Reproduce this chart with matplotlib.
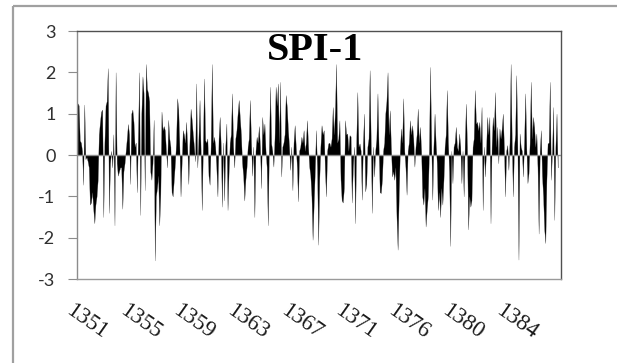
import matplotlib
matplotlib.use("Agg")
import matplotlib.pyplot as plt
from matplotlib.lines import Line2D
from matplotlib.transforms import blended_transform_factory
import numpy as np

title = "SPI-1"
year_labels = ["1351", "1355", "1359", "1363", "1367", "1371", "1376", "1380", "1384"]
label_step = 48
y_ticks = [-3, -2, -1, 0, 1, 2, 3]

spi_1351_1360 = [
    1.25, 1.2, 0.35, 0.3, 0.1, -0.72, 1.22, -0.1, -0.05, -0.15, -0.3, -1.2,
    -1.15, -0.9, -1.3, -1.65, -1.2, -1.0, -0.6, 0.5, 0.8, 1.05, 1.1, -1.5,
    0.3, 1.2, 1.3, 2.1, -1.4, -0.2, 0.1, -0.3, 0.5, -1.7, 2.0, -0.2,
    -0.5, -0.4, -0.3, -0.3, -1.3, -0.4, -0.2, 0.1, 0.4, 0.75, 0.5, -0.7,
    1.0, 1.1, 0.8, 0.2, 0.3, -0.9, 0.5, 2.0, -1.45, 1.0, 1.9, 1.5,
    -0.85, 2.2, 1.6, 1.5, 1.3, -0.4, -0.6, -0.2, 0.85, -2.55, -1.0, -0.8,
    -0.5, -1.7, -0.95, 1.05, 0.6, 0.7, 0.6, 0.1, -0.3, 0.85, 0.4, 0.2,
    -0.9, -1.0, -0.6, -0.2, 0.3, 1.37, 1.1, 0.2, -1.0, -0.2, 0.6, 0.5,
    0.3, 0.8, 0.2, -0.7, 0.3, 1.12, 0.85, 0.5, 0.2, -0.15, 1.73, -0.3,
    0.4, 1.33, 0.1, -1.33, 0.2, 1.85, 0.36, 0.3, 0.4, -0.5, -0.72, 0.3,
]
spi_1361_1370 = [
    2.2, 0.3, 0.44, 0.2, -0.3, -1.0, 0.4, 0.92, 0.2, -1.25, 0.3, -1.1,
    0.2, 0.76, -1.33, -0.4, 0.3, 0.5, 1.49, 0.2, -0.3, 0.4, 0.6, 1.0,
    1.33, 0.9, 0.5, -0.2, -0.5, -1.1, -0.6, -0.3, 0.2, 0.4, 1.33, 0.3,
    -0.5, 0.2, -1.5, 0.1, 0.44, 0.3, 0.7, 0.2, -0.8, 0.92, 0.5, 0.76,
    0.1, -0.3, -1.7, 0.2, 1.65, 0.28, 0.1, -0.28, 0.4, 1.65, 1.2, 1.73,
    0.3, 1.77, -0.52, 0.2, 0.3, 0.5, 1.45, 1.16, 0.6, 0.2, -0.36, 0.2,
    -0.85, 0.3, 0.72, 0.2, -0.3, -1.12, 0.1, 0.2, 0.44, 0.3, 0.6, 0.1,
    0.3, 0.84, 0.2, -0.28, -0.5, -1.0, -2.05, -1.2, -0.4, 0.6, -0.3, -2.17,
    -0.6, 0.2, 0.72, 0.5, 0.6, -0.36, -1.0, 0.1, 0.28, 0.3, 0.2, 0.4,
    1.16, 0.5, 1.08, 2.2, 0.3, 0.4, 0.84, -0.6, -1.1, -1.15, -0.8, 0.84,
]
spi_1371_1380 = [
    0.5, 0.52, 0.1, 0.48, 0.45, -1.15, -0.3, 0.2, -1.65, 0.3, 1.52, 0.2,
    0.28, 0.1, -1.08, 0.3, 1.0, -0.88, -0.7, 0.2, 0.4, 2.05, 0.3, -1.4,
    0.2, -0.52, 0.1, 0.4, 1.49, 0.2, -0.9, -0.92, -0.6, 0.1, 0.3, 1.0,
    1.3, 2.0, 0.5, 1.08, 0.2, -0.52, -0.4, -0.6, -0.3, -1.5, -2.29, -1.0,
    0.1, 0.64, 0.3, 1.37, 0.1, -0.3, -0.96, 0.1, 0.3, 0.84, 0.5, 0.72,
    0.4, -0.28, 0.2, 0.5, 1.12, 0.3, 0.68, 0.1, -1.0, -1.2, -0.8, -1.73,
    -1.33, -1.0, 0.1, 2.13, 0.3, -1.08, 0.2, 1.0, 0.3, -0.2, -1.33, -0.9,
    -1.5, -0.8, -1.2, -0.6, 0.2, 0.5, 1.57, 0.3, -0.4, -2.2, 0.1, -0.68,
    0.2, 0.3, 0.68, 0.2, 0.1, 0.52, 0.2, -0.68, 0.1, -1.0, 0.3, 1.24,
    0.2, -1.8, -1.0, -1.25, -1.1, 0.2, 0.4, 1.57, 0.76, 0.8, 0.6, 0.8,
]
spi_1381_1386 = [
    0.3, 1.16, -1.33, 0.2, -0.52, 0.1, 0.92, 0.5, 0.92, -1.65, 0.2, 0.92,
    0.6, 1.52, 0.2, 0.68, -0.2, 0.64, 0.4, 0.64, 1.0, 0.2, -1.0, 0.1,
    0.24, -0.36, 0.3, 2.2, 0.3, -1.0, 0.2, 0.5, 1.93, 0.3, -2.53, 0.52,
    0.2, 0.1, -0.52, 0.3, 1.49, 0.2, -0.68, -0.44, 0.3, 1.77, 0.4, 0.92,
    0.68, 0.2, 0.52, -0.3, -1.9, 0.1, 0.6, -0.5, -1.0, -1.8, -2.13, -0.6,
    0.28, 0.3, 1.77, -0.6, 0.1, 1.16, -1.57, 0.2, 1.0, -0.3,
]

spi = np.array(spi_1351_1360 + spi_1361_1370 + spi_1371_1380 + spi_1381_1386)
months = np.arange(len(spi))

W, H = 617, 363
fig = plt.figure(figsize=(W / 100, H / 100), dpi=100)
fig.patch.set_facecolor("white")

# outer chart frame
frame_col = "#a0a0a0"
fig.add_artist(Line2D([13 / W, 13 / W], [0, 1 - 6 / H], color=frame_col, lw=1.6,
                      transform=fig.transFigure, solid_capstyle="butt"))
fig.add_artist(Line2D([13 / W, 1], [1 - 6 / H, 1 - 6 / H], color=frame_col, lw=1.6,
                      transform=fig.transFigure, solid_capstyle="butt"))

left, right, top, bottom = 77 / W, 561 / W, 1 - 31 / H, 1 - 279 / H
ax = fig.add_axes([left, bottom, right - left, top - bottom])

ax.fill_between(months, spi, 0, color="black", linewidth=0.2, edgecolor="#404040")
ax.axhline(0, color="#8c8c8c", lw=1.0, zorder=3)

ax.set_xlim(-0.5, 432)
ax.set_ylim(-3, 3)
ax.set_yticks(y_ticks)
ax.set_yticklabels([str(t) for t in y_ticks], fontfamily="Lato", fontsize=13, color="#303030")
ax.tick_params(axis="y", direction="out", length=6.5, width=0.8, color="#8c8c8c", pad=9)
ax.set_xticks([])

for side, col in (("left", "#8c8c8c"), ("bottom", "#9a9a9a"), ("top", "#505050"), ("right", "#505050")):
    ax.spines[side].set_color(col)
    ax.spines[side].set_linewidth(1.0)

trans = blended_transform_factory(ax.transData, ax.transAxes)
for i, lab in enumerate(year_labels):
    ax.text(i * label_step - 3, -21 / 248, lab, transform=trans, rotation=-35,
            rotation_mode="anchor", ha="left", va="top",
            fontfamily="Liberation Serif", fontsize=16.5, color="#1a1a1a")

fig.text(315 / W, 1 - 60 / H, title, ha="center", va="baseline",
         fontfamily="Liberation Serif", fontweight="bold", fontsize=29, color="black")

fig.savefig("out.png", dpi=100, facecolor="white")
